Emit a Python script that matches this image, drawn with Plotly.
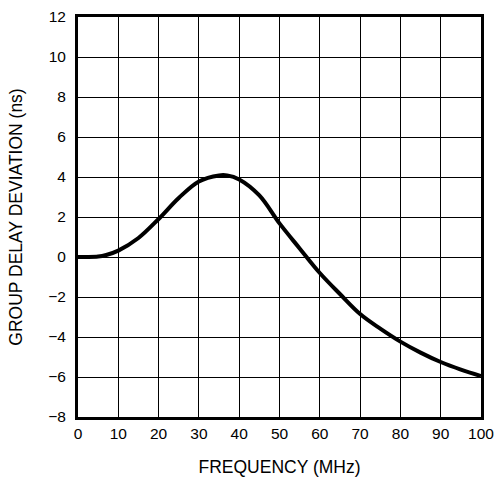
import plotly.graph_objects as go

freq_mhz = [0, 2, 5, 7, 10, 15, 20, 25, 30, 35, 37, 40, 45, 50, 55, 60, 65, 70, 75, 80, 85, 90, 95, 100]
delay_ns = [0.0, 0.0, 0.02, 0.1, 0.32, 0.95, 1.9, 2.95, 3.78, 4.08, 4.08, 3.88, 3.08, 1.68, 0.43, -0.8, -1.85, -2.85, -3.58, -4.23, -4.78, -5.25, -5.63, -5.95]

x_ticks = [0, 10, 20, 30, 40, 50, 60, 70, 80, 90, 100]
y_ticks = [-8, -6, -4, -2, 0, 2, 4, 6, 8, 10, 12]
y_tick_text = ["\u22128", "\u22126", "\u22124", "\u22122", "0", "2", "4", "6", "8", "10", "12"]

fig = go.Figure()
fig.add_trace(go.Scatter(x=freq_mhz, y=delay_ns, mode="lines",
                         line=dict(color="black", width=4, shape="spline", smoothing=1.0),
                         showlegend=False))

family = "Liberation Sans, Arial, sans-serif"
tick_font = dict(family=family, size=15.5, color="black")
title_font = dict(family=family, size=17.5, color="black")

fig.update_layout(
    template="none",
    width=500, height=477,
    margin=dict(l=78, r=19, t=17, b=60),
    paper_bgcolor="white", plot_bgcolor="white",
    font=tick_font,
    xaxis=dict(range=[0, 100], tickvals=x_ticks, ticktext=[str(v) for v in x_ticks],
               automargin=False, tickfont=tick_font,
               showgrid=True, gridcolor="black", gridwidth=1,
               showline=True, linecolor="black", linewidth=3, mirror=True,
               zeroline=False, ticks="", ticklen=0, ticklabelstandoff=0,
               title=dict(text="FREQUENCY (MHz)", font=title_font, standoff=22)),
    yaxis=dict(range=[-8, 12], tickvals=y_ticks, ticktext=y_tick_text,
               automargin=False, tickfont=tick_font,
               showgrid=True, gridcolor="black", gridwidth=1,
               showline=True, linecolor="black", linewidth=3, mirror=True,
               zeroline=False, ticks="", ticklen=0, ticklabelstandoff=6,
               title=dict(text="GROUP DELAY DEVIATION (ns)", font=title_font, standoff=22)),
)

fig.write_html("out.html", config={"displayModeBar": False},
               post_script="document.body.style.margin='0';document.body.style.overflow='hidden';")
